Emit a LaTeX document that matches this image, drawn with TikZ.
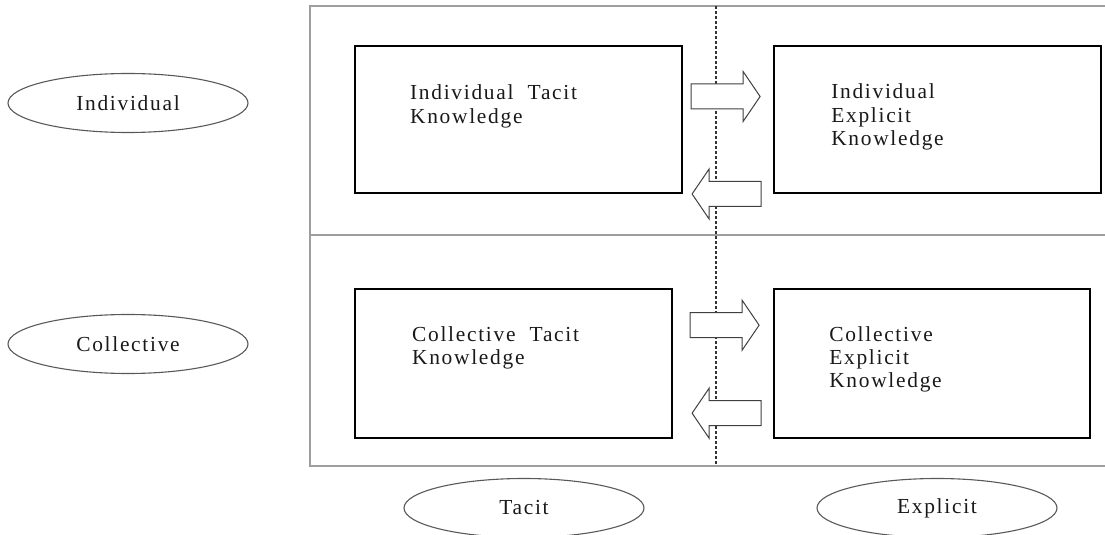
\documentclass[tikz,border=0pt]{standalone}
\usepackage{fontspec}
\setmainfont{Liberation Serif}[LetterSpace=8]
\usetikzlibrary{positioning,calc,shapes.geometric}

\begin{document}
\begin{tikzpicture}[x=1bp,y=-1bp,font=\fontsize{21.5}{23.5}\selectfont,
  box/.style={draw=black,line width=2.2bp,minimum width=327bp,minimum height=147bp,inner sep=0pt},
  txt/.style={anchor=north west,align=left,inner sep=0pt,text=black!90},
  oval/.style={draw=black!65,line width=1.1bp,ellipse,minimum width=240bp,minimum height=59bp,inner sep=0pt,text=black!90},
  frame/.style={draw=black!38,line width=1.6bp},
  divider/.style={draw=black!80,line width=1.3bp,dash pattern=on 3bp off 2bp},
  fatarr/.pic={\draw[draw=black!75,fill=white,line width=1bp] (0,-12.5) -- (52,-12.5) -- (52,-25) -- (69,0) -- (52,25) -- (52,12.5) -- (0,12.5) -- cycle;}]
\useasboundingbox (0,0) rectangle (1105,535);

% grid of the two dimensions
\coordinate (fnw) at (310,6);
\coordinate (fsw) at (310,466);
\draw[frame] (1105,6) -- (fnw) -- (fsw) -- (1105,466);
\draw[frame] (310,235) -- (1105,235);
\draw[divider] (716,6) -- (716,466);

% knowledge boxes
\node[box] (it) at (518.5,119.5) {};
\node[box,right=90bp of it] (ie) {};
\node[box,minimum width=317bp,minimum height=149bp,below=94bp of it.south west,anchor=north west] (ct) {};
\node[box,minimum width=316bp,minimum height=149bp,right=100bp of ct] (ce) {};
\node[txt] (itlbl) at ([shift={(56,40)}]it.north west) {Individual\ \ Tacit\\Knowledge};
\node[txt] (ielbl) at ([shift={(58,39)}]ie.north west) {Individual\\Explicit\\Knowledge};
\node[txt] (ctlbl) at ([shift={(58,38)}]ct.north west) {Collective\ \ Tacit\\Knowledge};
\node[txt] (celbl) at ([shift={(56,38)}]ce.north west) {Collective\\Explicit\\Knowledge};

% conversions across the divide
\pic at ($(it.east)+(8,-23)$) {fatarr};
\pic[rotate=180] at ($(ie.west)+(-12,74.5)$) {fatarr};
\pic at ($(ct.east)+(17,-38.5)$) {fatarr};
\pic[rotate=180] at ($(ce.west)+(-12,49.5)$) {fatarr};

% axis labels
\node[oval] (indiv) at (128,103) {Individual};
\node[oval] (coll) at (128,344) {Collective};
\node[oval] (tacit) at (524,508) {Tacit};
\node[oval] (expl) at (937,508) {Explicit};
\end{tikzpicture}
\end{document}
